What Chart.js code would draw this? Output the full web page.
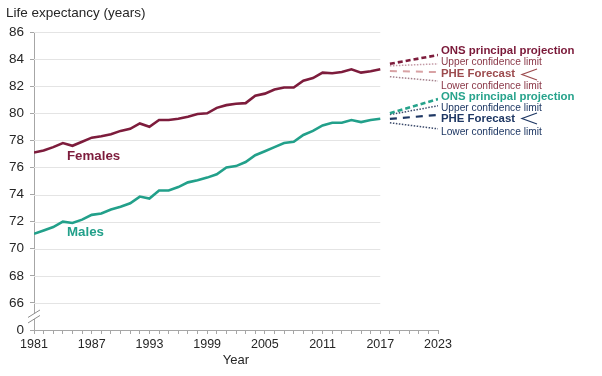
<!DOCTYPE html>
<html>
<head>
<meta charset="utf-8">
<script src="https://cdn.jsdelivr.net/npm/chart.js@4/dist/chart.umd.min.js"></script>
<style>
  html, body { margin: 0; padding: 0; background: #ffffff; }
  #wrap { width: 602px; height: 376px; position: relative; }
</style>
</head>
<body>
<div id="wrap"><canvas id="c" width="602" height="376"></canvas></div>
<script>
// ---- Data ----
const years = [1981,1982,1983,1984,1985,1986,1987,1988,1989,1990,1991,1992,1993,1994,1995,1996,1997,1998,1999,2000,2001,2002,2003,2004,2005,2006,2007,2008,2009,2010,2011,2012,2013,2014,2015,2016,2017];
const females = [77.1,77.25,77.5,77.8,77.6,77.9,78.2,78.3,78.45,78.7,78.85,79.25,79.0,79.5,79.5,79.6,79.75,79.95,80.0,80.4,80.6,80.7,80.75,81.3,81.45,81.75,81.9,81.9,82.4,82.6,83.0,82.95,83.05,83.25,83.0,83.1,83.25];
const males = [71.1,71.35,71.6,72.0,71.9,72.15,72.5,72.6,72.9,73.1,73.35,73.85,73.7,74.3,74.3,74.55,74.9,75.05,75.25,75.5,76.0,76.1,76.4,76.9,77.2,77.5,77.8,77.9,78.4,78.7,79.1,79.3,79.3,79.5,79.35,79.5,79.6];

const projYears = [2018, 2023];
const femaleONS   = [83.65, 84.3];
const femaleUpper = [83.5, 83.65];
const femalePHE   = [83.12, 83.04];
const femaleLower = [82.7, 82.38];
const maleONS     = [80.0, 81.05];
const maleUpper   = [79.9, 80.55];
const malePHE     = [79.58, 79.88];
const maleLower   = [79.3, 78.85];

const yTicks = [64,66,68,70,72,74,76,78,80,82,84,86];
const yTickLabels = ['0','66','68','70','72','74','76','78','80','82','84','86'];
const xLabelYears = [1981,1987,1993,1999,2005,2011,2017,2023];
const allYears = [];
for (let y = 1981; y <= 2023; y++) allYears.push(y);

// ---- Styles ----
const C_F = '#7d1c3c';
const C_M = '#22a08a';
const C_NAVY = '#1f3864';
const FONT = '"Liberation Sans", Arial, sans-serif';

const pts = (xs, ys) => xs.map((x, i) => ({x: x, y: ys[i]}));

function lineDs(label, data, color, width, dash) {
  return {
    label, data, borderColor: color, backgroundColor: color,
    borderWidth: width, borderDash: dash || [], pointRadius: 0,
    tension: 0, fill: false, borderCapStyle: 'butt'
  };
}

const annot = {
  id: 'annot',
  beforeDatasetsDraw(chart) {
    const {ctx} = chart;
    const xs = chart.scales.x, ys = chart.scales.y;
    ctx.save();
    ctx.strokeStyle = '#e4e4e4';
    ctx.lineWidth = 1;
    const x0 = xs.getPixelForValue(1981), x1 = xs.getPixelForValue(2017);
    yTicks.forEach(v => {
      if (v === 64) return;
      const py = Math.round(ys.getPixelForValue(v)) + 0.5;
      ctx.beginPath(); ctx.moveTo(x0, py); ctx.lineTo(x1, py); ctx.stroke();
    });
    ctx.restore();
  },
  afterDraw(chart) {
    const {ctx} = chart;
    const xs = chart.scales.x, ys = chart.scales.y;
    ctx.save();
    // axis break marks
    const ax = xs.getPixelForValue(1981);
    const yb = (ys.getPixelForValue(64) + ys.getPixelForValue(66)) / 2;
    ctx.fillStyle = '#ffffff';
    ctx.beginPath();
    ctx.moveTo(ax - 6, yb + 1); ctx.lineTo(ax + 6, yb - 6.5);
    ctx.lineTo(ax + 6, yb - 1); ctx.lineTo(ax - 6, yb + 6.5); ctx.closePath();
    ctx.fill();
    ctx.strokeStyle = '#8c8c8c'; ctx.lineWidth = 1;
    ctx.beginPath();
    ctx.moveTo(ax - 6, yb + 1); ctx.lineTo(ax + 6, yb - 6.5);
    ctx.moveTo(ax - 6, yb + 6.5); ctx.lineTo(ax + 6, yb - 1);
    ctx.stroke();

    // texts
    ctx.textBaseline = 'middle';
    ctx.textAlign = 'left';
    ctx.fillStyle = '#262626';
    ctx.font = '13.5px ' + FONT;
    ctx.fillText('Life expectancy (years)', 6, 13);

    ctx.font = 'bold 13.3px ' + FONT;
    ctx.fillStyle = C_F; ctx.fillText('Females', 67, 156);
    ctx.fillStyle = C_M; ctx.fillText('Males', 67, 232);

    const lx = xs.getPixelForValue(2023) + 3;
    const bold = 'bold 11.4px ' + FONT, reg = '10.2px ' + FONT;
    const rows = [
      ['ONS principal projection', bold, '#7a1838', 51],
      ['Upper confidence limit', reg, '#8a3848', 62],
      ['PHE Forecast', bold, '#9c4b4e', 74],
      ['Lower confidence limit', reg, '#8a3848', 86],
      ['ONS principal projection', bold, '#27a38c', 97],
      ['Upper confidence limit', reg, C_NAVY, 108],
      ['PHE Forecast', bold, C_NAVY, 118.5],
      ['Lower confidence limit', reg, C_NAVY, 132]
    ];
    rows.forEach(r => { ctx.font = r[1]; ctx.fillStyle = r[2]; ctx.fillText(r[0], lx, r[3]); });

    // "<" brackets
    ctx.lineWidth = 1.2;
    [['#9c4b4e', 74.5], [C_NAVY, 118.5]].forEach(b => {
      ctx.strokeStyle = b[0];
      ctx.beginPath();
      ctx.moveTo(537, b[1] - 5.5); ctx.lineTo(522, b[1]); ctx.lineTo(537, b[1] + 5.5);
      ctx.stroke();
    });
    ctx.restore();
  }
};

new Chart(document.getElementById('c'), {
  type: 'line',
  data: {
    datasets: [
      lineDs('Females', pts(years, females), C_F, 2.6),
      lineDs('Males', pts(years, males), C_M, 2.6),
      lineDs('Female ONS principal projection', pts(projYears, femaleONS), C_F, 2.6, [5, 3]),
      lineDs('Female upper confidence limit', pts(projYears, femaleUpper), '#c39aa6', 1.5, [1.5, 1.5]),
      lineDs('Female PHE Forecast', pts(projYears, femalePHE), '#d8a2a4', 2, [7, 6]),
      lineDs('Female lower confidence limit', pts(projYears, femaleLower), '#a27f8a', 1.5, [1.5, 1.5]),
      lineDs('Male ONS principal projection', pts(projYears, maleONS), '#27a38c', 2.6, [5, 3]),
      lineDs('Male upper confidence limit', pts(projYears, maleUpper), '#3b4a6b', 1.5, [1.5, 1.5]),
      lineDs('Male PHE Forecast', pts(projYears, malePHE), C_NAVY, 2.2, [7, 6]),
      lineDs('Male lower confidence limit', pts(projYears, maleLower), '#3b4a6b', 1.5, [1.5, 1.5])
    ]
  },
  options: {
    responsive: false,
    animation: false,
    parsing: true,
    layout: { padding: { top: 32, right: 164, bottom: 0, left: 0 } },
    plugins: { legend: { display: false }, tooltip: { enabled: false }, title: { display: false } },
    scales: {
      x: {
        type: 'linear', min: 1981, max: 2023,
        afterBuildTicks: s => { s.ticks = allYears.map(v => ({value: v})); },
        afterFit: s => { s.height = 46; },
        ticks: {
          autoSkip: false, maxRotation: 0, padding: 3,
          color: '#262626', font: { family: FONT, size: 12.5 },
          callback: v => xLabelYears.includes(v) ? String(v) : ''
        },
        grid: { drawOnChartArea: false, drawTicks: true, tickLength: 4, color: '#a6a6a6' },
        border: { color: '#a6a6a6', width: 1 },
        title: { display: true, text: 'Year', color: '#262626', font: { family: FONT, size: 13 }, padding: { top: 0, bottom: 8 } }
      },
      y: {
        type: 'linear', min: 64, max: 86,
        afterBuildTicks: s => { s.ticks = yTicks.map(v => ({value: v})); },
        afterFit: s => { s.width = 34; },
        ticks: {
          autoSkip: false, padding: 6,
          color: '#262626', font: { family: FONT, size: 13.5 },
          callback: v => yTickLabels[yTicks.indexOf(v)]
        },
        grid: { drawOnChartArea: false, drawTicks: true, tickLength: 4, color: '#a6a6a6' },
        border: { color: '#a6a6a6', width: 1 }
      }
    }
  },
  plugins: [annot]
});
</script>
</body>
</html>
